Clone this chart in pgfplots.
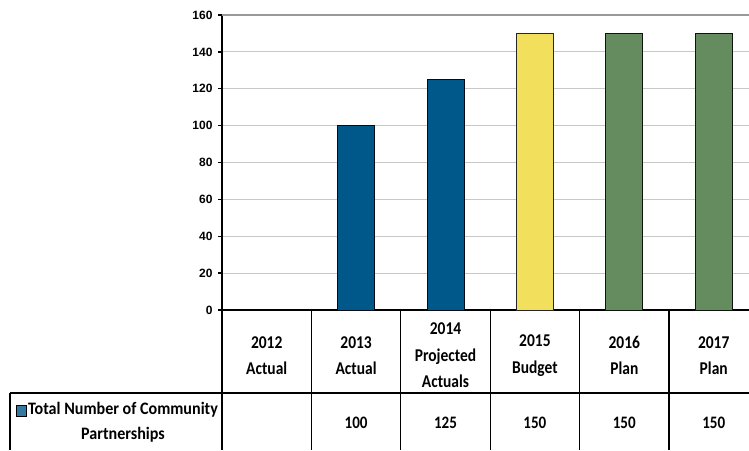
\documentclass[border=0pt]{standalone}
\usepackage{pgfplots}
\pgfplotsset{compat=1.18}
\usepackage{fontspec}
\setmainfont{Carlito}
\newfontfamily\tablefont[FakeStretch=0.86]{Carlito}
\newfontfamily\legendfont[FakeStretch=0.92]{Carlito}
\newfontfamily\arialfont{Liberation Sans}

\definecolor{barblue}{HTML}{00578A}
\definecolor{baryellow}{HTML}{F2E05C}
\definecolor{bargreen}{HTML}{648C5E}
\definecolor{gridgray}{HTML}{C8C8C8}

\begin{document}
\begin{tikzpicture}[x=1pt,y=1pt]
\useasboundingbox (0,0) rectangle (749,450);
\clip (0,0) rectangle (749,450);

\begin{axis}[
    at={(222pt,140pt)}, anchor=south west,
    scale only axis,
    width=536.4pt, height=295pt,
    xmin=0.5, xmax=6.5,
    ymin=0, ymax=160,
    ytick distance=20,
    axis lines*=left,
    axis line style={black, line width=1.3pt},
    ymajorgrids=true,
    grid style={gridgray, line width=1.2pt},
    tick align=outside,
    major tick length=4pt,
    tick style={black, line width=1.3pt},
    xtick={1,...,6},
    xticklabels={{2012\\Actual},{2013\\Actual},{2014\\Projected\\Actuals},{2015\\Budget},{2016\\Plan},{2017\\Plan}},
    x tick style={draw=none},
    xticklabel style={anchor=center, yshift=-41.5pt, align=center,
        font=\tablefont\bfseries\fontsize{18}{26.5}\selectfont},
    yticklabel style={font=\arialfont\bfseries\fontsize{12}{14}\selectfont, xshift=-2pt},
    /pgf/number format/assume math mode=true,
    clip=false,
]
\draw[black!40, line width=1.2pt] (axis cs:0.5,160) -- (axis cs:6.5,160);
\addplot[ybar, bar width=37pt, bar shift=0pt, fill=barblue, draw=black!85!barblue, line width=1pt]
    coordinates {(2,100) (3,125)};
\addplot[ybar, bar width=37pt, bar shift=0pt, fill=baryellow, draw=black!85, line width=1pt]
    coordinates {(4,150)};
\addplot[ybar, bar width=37pt, bar shift=0pt, fill=bargreen, draw=black!85!bargreen, line width=1pt]
    coordinates {(5,150) (6,150)};
% values in the data table row
\addplot[draw=none, mark=none, point meta=explicit symbolic, nodes near coords,
    every node near coord/.append style={anchor=center, yshift=-113pt,
        font=\tablefont\bfseries\fontsize{17.5}{18}\selectfont, text=black}]
    coordinates {(2,0)[100] (3,0)[125] (4,0)[150] (5,0)[150] (6,0)[150]};
\end{axis}

% data table grid
\begin{scope}[line width=1.3pt, black]
  \foreach \k in {0,...,6} {
    \draw ({222+89.4*\k},140) -- ({222+89.4*\k},0);
  }
  \draw (10,57) -- (749,57);
  \draw (10,57) -- (10,0);
\end{scope}
\fill[barblue!80, draw=black, line width=0.9pt] (16,34) rectangle (26,45);
\node[align=center, font=\legendfont\bfseries\fontsize{17.5}{25}\selectfont, anchor=center]
  at (123,27.5) {Total Number of Community\\Partnerships};
\end{tikzpicture}
\end{document}
